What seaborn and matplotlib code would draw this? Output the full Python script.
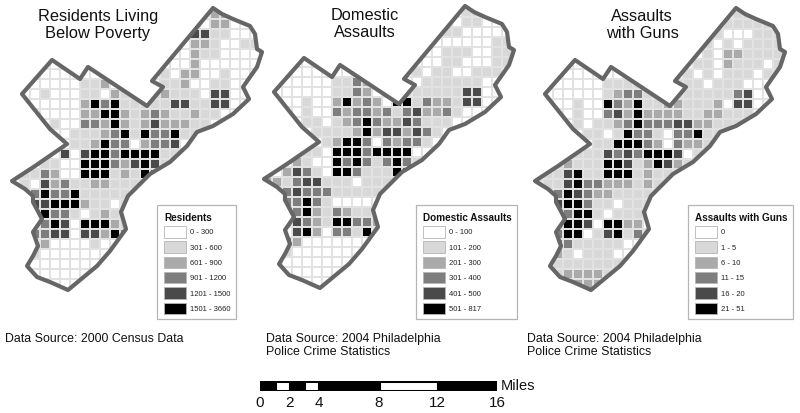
import matplotlib
matplotlib.use("Agg")
import matplotlib.pyplot as plt
import numpy as np
import seaborn as sns
from matplotlib.colors import ListedColormap
from matplotlib.patches import Polygon, Rectangle

sns.set_theme(style="white")
plt.rcParams["font.family"] = ["Liberation Sans", "DejaVu Sans"]

greys = ["#ffffff", "#d8d8d8", "#aaaaaa", "#7e7e7e", "#4a4a4a", "#000000"]

# class (0-5) of each 10 px block of the city
poverty_rows = [
    "000000000 000000000 000000000",
    "000000000 000000000 000220000",
    "000000000 000000000 000220000",
    "000000000 000000000 044110000",
    "000000000 000000000 022100110",
    "000000000 000000000 021100000",
    "000000000 000000000 020000000",
    "000000000 000000010 220010000",
    "000000001 120000011 200110000",
    "000010001 102100121 110440000",
    "000000002 535111114 411440000",
    "000000002 255212321 121100000",
    "000001003 325212422 211000000",
    "000000011 123515335 110000000",
    "000000011 253302334 000000000",
    "000000404 553555511 100000000",
    "000011005 553245411 000000000",
    "001132005 551215410 000000000",
    "001042311 221111000 000000000",
    "000353351 111100000 000000000",
    "000445552 110100000 000000000",
    "000353310 121100000 000000000",
    "000035405 552100000 000000000",
    "000334404 425300000 000000000",
    "000020000 100000000 000000000",
    "000100000 000000000 000000000",
    "000000000 000000000 000000000",
    "000000000 000000000 000000000",
    "000000000 000000000 000000000",
    "000000000 000000000 000000000",
]
domestic_rows = [
    "000000000 000000000 000000000",
    "000000000 000000000 000110000",
    "000000000 000000000 000110000",
    "000000000 000000000 011000000",
    "000000000 000000000 000000110",
    "000000000 000000000 011100110",
    "000000000 000000000 011000110",
    "000000000 000000010 110011100",
    "000000001 132000001 111110000",
    "000000001 132000111 111440000",
    "000001002 523205513 221440000",
    "000001003 233231342 231000000",
    "000001101 235322431 110000000",
    "000000111 125244243 100000000",
    "000000012 553032331 000000000",
    "000001105 553555500 000000000",
    "000021005 353135310 000000000",
    "000243105 531115400 000000000",
    "022134411 101111000 000000000",
    "000343331 111100000 000000000",
    "000335310 000000000 000000000",
    "000435213 211000000 000000000",
    "000343215 533200000 000000000",
    "000045203 315100000 000000000",
    "000320000 000000000 000000000",
    "000100000 000000000 000000000",
    "000000000 000000000 000000000",
    "000000000 000000000 000000000",
    "000000000 000000000 000000000",
    "000000000 000000000 000000000",
]
guns_rows = [
    "000000000 000000000 000000000",
    "000000000 000000000 000111000",
    "000000000 000000000 001111100",
    "000000000 000000000 010001110",
    "000000000 000000000 101011110",
    "000000000 000000000 102211110",
    "000000000 000000001 102111010",
    "000000000 000000010 101110110",
    "000000001 111000111 011100000",
    "000000001 233100111 111340000",
    "000001005 325112211 120440000",
    "000001003 425222211 221110000",
    "000001011 235333442 211110000",
    "000000110 153310335 110000000",
    "000000011 555320322 100000000",
    "000001114 343555401 100000000",
    "000121115 541254211 000000000",
    "001145115 551211110 000000000",
    "011145332 221210000 000000000",
    "000354322 111100000 000000000",
    "000455311 011100000 000000000",
    "000335510 111100000 000000000",
    "000255405 522000000 000000000",
    "000355014 513100000 000000000",
    "000331111 100000000 000000000",
    "000210111 000000000 000000000",
    "000111111 100000000 000000000",
    "000122221 100000000 000000000",
    "000012220 000000000 000000000",
    "000000100 000000000 000000000",
]

city_x = [213, 222, 233, 250, 255, 257, 262, 257, 243, 249, 233, 213, 197, 187,
          170, 150, 128, 121, 126, 110, 97, 68, 50, 37, 27, 33, 38, 33, 42, 33,
          33, 25, 12, 35, 67, 50, 22, 52, 80, 88, 147, 163, 152, 213]
city_y = [9, 15, 20, 27, 35, 50, 53, 68, 88, 100, 115, 127, 133, 147, 163, 175,
          197, 213, 230, 252, 267, 291, 283, 278, 267, 257, 247, 233, 220, 203,
          197, 190, 182, 167, 145, 130, 95, 61, 80, 68, 107, 88, 82, 9]

titles = ["Residents Living\nBelow Poverty", "Domestic\nAssaults", "Assaults\nwith Guns"]
legend_titles = ["Residents", "Domestic Assaults", "Assaults with Guns"]
poverty_labels = ["0 - 300", "301 - 600", "601 - 900", "901 - 1200", "1201 - 1500", "1501 - 3660"]
domestic_labels = ["0 - 100", "101 - 200", "201 - 300", "301 - 400", "401 - 500", "501 - 817"]
guns_labels = ["0", "1 - 5", "6 - 10", "11 - 15", "16 - 20", "21 - 51"]
sources = ["Data Source: 2000 Census Data",
           "Data Source: 2004 Philadelphia\nPolice Crime Statistics",
           "Data Source: 2004 Philadelphia\nPolice Crime Statistics"]

scale_starts = [0, 1, 2, 3, 4, 8, 12]
scale_widths = [1, 1, 1, 1, 4, 4, 4]
scale_colors = ["black", "white", "black", "white", "black", "white", "black"]
scale_ticks = [0, 2, 4, 8, 12, 16]

W, H = 800, 414


def px_axes(fig, left, top, width, height):
    return fig.add_axes([left / W, 1 - (top + height) / H, width / W, height / H])


def draw_map(fig, left, top, rows):
    grid = np.array([[int(c) for c in r if c != " "] for r in rows])
    ax = px_axes(fig, left, top, 270, 300)
    ax.patch.set_visible(False)
    sns.heatmap(grid, ax=ax, cmap=ListedColormap(greys), vmin=-0.5, vmax=5.5, cbar=False,
                xticklabels=False, yticklabels=False, linewidths=0.15, linecolor="#e2e2e2")
    xy = np.column_stack([np.array(city_x) / 10, np.array(city_y) / 10])
    shape = Polygon(xy, closed=True, fill=False, edgecolor="#666666", lw=3, joinstyle="round", zorder=5)
    ax.add_patch(shape)
    ax.collections[0].set_clip_path(shape)
    ax.set_axis_off()


def draw_legend(ax, left, right, swatch_x, title, labels):
    ax.add_patch(Rectangle((left, 205.5), right - left, 114.5, fc="white", ec="#b5b5b5", lw=0.9))
    ax.text(swatch_x, 218, title, fontsize=7.2, fontweight="bold", va="center", color="#111111")
    for i, label in enumerate(labels):
        y = 227 + i * 15.3
        ax.add_patch(Rectangle((swatch_x, y), 22, 11.5, fc=greys[i], ec="#b5b5b5", lw=0.6))
        ax.text(swatch_x + 26, y + 6, label, fontsize=5.5, va="center", color="#222222")


fig = plt.figure(figsize=(W / 100, H / 100), dpi=100)

draw_map(fig, 0, 0, poverty_rows)
draw_map(fig, 252, -2, domestic_rows)
draw_map(fig, 523, 0, guns_rows)

page = px_axes(fig, 0, 0, W, H)
page.set_xlim(0, W)
page.set_ylim(H, 0)
page.set_axis_off()
page.patch.set_visible(False)

for x, y, t in zip([98, 365, 642], [25, 24, 25], titles):
    page.text(x, y, t, fontsize=11.8, ha="center", va="center", linespacing=1.12, color="#111111")

draw_legend(page, 157, 236, 164, legend_titles[0], poverty_labels)
draw_legend(page, 416, 517, 423, legend_titles[1], domestic_labels)
draw_legend(page, 688, 793, 695, legend_titles[2], guns_labels)

for x, y, t in zip([5, 266, 527], [333, 333, 333], sources):
    page.text(x, y, t, fontsize=8.9, va="top", linespacing=1.15, color="#111111")

# scale bar
bar = px_axes(fig, 260, 382, 237, 10)
for start, width, color in zip(scale_starts, scale_widths, scale_colors):
    sns.barplot(x=[width], y=[0], left=start, orient="h", ax=bar, width=1,
                color=color, saturation=1, edgecolor="black", linewidth=2.2)
bar.set_xlim(0, 16)
bar.set_xticks(scale_ticks)
bar.set_xticklabels(scale_ticks, fontsize=11, color="#111111")
bar.tick_params(axis="x", length=0, pad=3)
bar.set_yticks([])
bar.set_ylabel("")
sns.despine(ax=bar, left=True, bottom=True)
page.text(501, 386, "Miles", fontsize=10.5, va="center", color="#111111")

fig.savefig("out.png", dpi=100)
